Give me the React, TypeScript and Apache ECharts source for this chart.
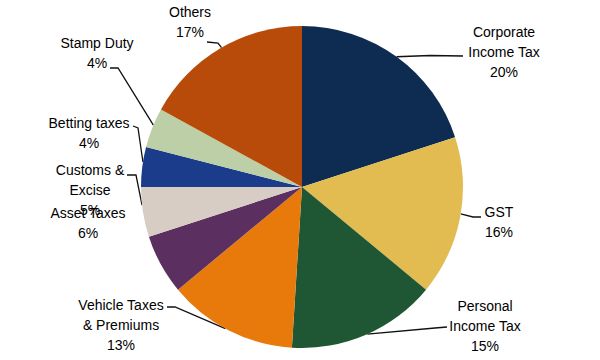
import React, { useEffect, useRef } from "react";
import * as echarts from "echarts";

const categories = [
  "Corporate\nIncome Tax",
  "GST",
  "Personal\nIncome Tax",
  "Vehicle Taxes\n& Premiums",
  "Asset Taxes",
  "Customs &\nExcise",
  "Betting taxes",
  "Stamp Duty",
  "Others",
];
const shares = [20, 16, 15, 13, 6, 5, 4, 4, 17];
const colors = [
  "#0E2C52",
  "#E2BC50",
  "#1F5633",
  "#E8790B",
  "#5B3060",
  "#D8CDC5",
  "#1A3C8A",
  "#BDCFA6",
  "#B84B0A",
];
// label anchor positions (text block centres)
const labelPos: [number, number][] = [
  [504, 52],
  [499, 222],
  [485, 326],
  [121, 325],
  [88, 223],
  [90, 190],
  [89, 133],
  [97, 53],
  [190, 22],
];
// leader-line elbows: [elbow, text end]
const leaderEnds: ([number, number][] | null)[] = [
  [[430, 55.5], [463, 56]],
  [[473, 217], [481, 217]],
  [[435, 328], [447, 327]],
  [[175, 307], [167, 307]],
  null,
  [[136, 175], [127, 175]],
  [[138, 128], [133, 126]],
  [[118, 68], [110, 68]],
  [[218, 43], [207, 42]],
];
// where each leader touches the pie, as fraction through its slice
const leaderFrac = [0.5, 0.48, 0.49, 0.53, 0.5, 0.64, 0.62, 0.57, 0.51];

const CX = 302;
const CY = 187;
const R = 161;

export default function App() {
  const ref = useRef<HTMLDivElement>(null);
  useEffect(() => {
    if (!ref.current) return;
    const chart = echarts.init(ref.current, null, { renderer: "svg" });
    const total = shares.reduce((a, b) => a + b, 0);
    const edge = (i: number): [number, number] => {
      let before = 0;
      for (let k = 0; k < i; k++) before += shares[k];
      const f = (before + shares[i] * leaderFrac[i]) / total;
      const ang = f * Math.PI * 2; // clockwise from top
      return [CX + R * Math.sin(ang), CY - R * Math.cos(ang)];
    };
    chart.setOption({
      animation: false,
      backgroundColor: "#ffffff",
      series: [
        {
          type: "pie",
          center: [CX, CY],
          radius: R,
          startAngle: 90,
          clockwise: true,
          avoidLabelOverlap: false,
          data: categories.map((c, i) => ({
            name: c,
            value: shares[i],
            itemStyle: { color: colors[i] },
            labelLine: { show: leaderEnds[i] !== null },
          })),
          label: {
            show: true,
            position: "outside",
            formatter: (p: any) => `${p.name}\n${p.value}%`,
            fontFamily: "'Liberation Sans', Arial, sans-serif",
            fontSize: 14,
            lineHeight: 20,
            color: "#000",
            align: "center",
          },
          labelLine: {
            show: true,
            length: 10,
            length2: 8,
            lineStyle: { color: "#111", width: 1.3 },
          },
          labelLayout: (params: any) => {
            const i = params.dataIndex;
            const p = labelPos[i];
            const out: any = {
              x: p[0],
              y: p[1],
              align: "center",
              verticalAlign: "middle",
            };
            const le = leaderEnds[i];
            if (le) out.labelLinePoints = [edge(i), le[0], le[1]];
            return out;
          },
        },
      ],
    });
    return () => chart.dispose();
  }, []);
  return (
    <div
      ref={ref}
      style={{ position: "fixed", left: 0, top: 0, width: 600, height: 360 }}
    />
  );
}
